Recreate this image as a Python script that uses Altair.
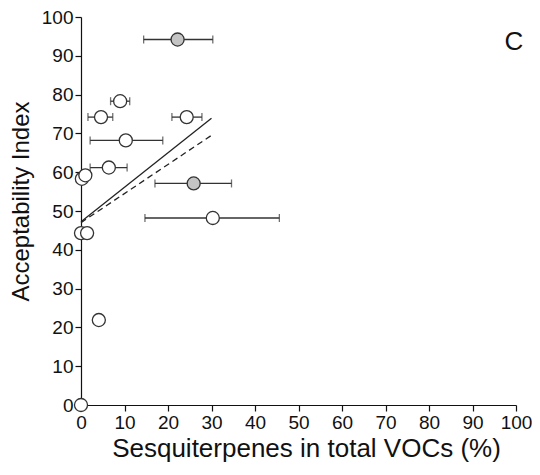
import altair as alt
import pandas as pd

# Data
x_vals = [22.2, 9.0, 4.6, 24.3, 10.3, 6.4, 0.2, 1.0, 25.9, 30.3, 0.0, 1.4, 4.1, 0.0]
y_vals = [94.2, 78.3, 74.2, 74.2, 68.2, 61.2, 58.3, 59.2, 57.1, 48.2, 44.3, 44.3, 21.9, 0.0]
err_lo = [14.4, 6.8, 1.6, 20.9, 2.1, 2.1, None, None, 17.0, 14.7, None, None, None, None]
err_hi = [30.3, 11.2, 7.3, 27.8, 18.8, 10.6, None, None, 34.6, 45.6, None, None, None, None]
group = ["gray", "open", "open", "open", "open", "open", "open", "open", "gray", "open", "open", "open", "open", "open"]

line_x = [0, 30]
solid_y = [47.2, 73.9]
dashed_y = [47.0, 69.5]

pts = pd.DataFrame({"x": x_vals, "y": y_vals, "lo": err_lo, "hi": err_hi, "g": group})
errs = pts.dropna(subset=["lo", "hi"])
lines = pd.DataFrame({
    "x": line_x + line_x,
    "y": solid_y + dashed_y,
    "kind": ["solid", "solid", "dashed", "dashed"],
})

W, H = 435, 388

xscale = alt.Scale(domain=[0, 100], nice=False)
yscale = alt.Scale(domain=[0, 100], nice=False)

xaxis = alt.Axis(values=list(range(0, 101, 10)), title="Sesquiterpenes in total VOCs (%)",
                 grid=False, labelFlush=False, titleFontSize=26, titleX=225, titlePadding=3)
yaxis = alt.Axis(values=list(range(0, 101, 10)), title="Acceptability Index", grid=False,
                 titleFontSize=24, titleY=184, titlePadding=8)

base_x = alt.X("x:Q", scale=xscale, axis=xaxis)
base_y = alt.Y("y:Q", scale=yscale, axis=yaxis)

solid = alt.Chart(lines[lines.kind == "solid"]).mark_line(color="#222", strokeWidth=1.3).encode(
    x=base_x, y=base_y)
dashed = alt.Chart(lines[lines.kind == "dashed"]).mark_line(
    color="#222", strokeWidth=1.3, strokeDash=[6, 4]).encode(x=base_x, y=base_y)

err_rule = alt.Chart(errs).mark_rule(color="#333", strokeWidth=1.3).encode(
    x=alt.X("lo:Q", scale=xscale, axis=xaxis), x2="hi:Q", y=base_y)
cap_lo = alt.Chart(errs).mark_tick(color="#333", thickness=1.3, size=8, orient="vertical").encode(
    x=alt.X("lo:Q", scale=xscale, axis=xaxis), y=base_y)
cap_hi = alt.Chart(errs).mark_tick(color="#333", thickness=1.3, size=8, orient="vertical").encode(
    x=alt.X("hi:Q", scale=xscale, axis=xaxis), y=base_y)

points = alt.Chart(pts).mark_point(filled=True, size=170, stroke="#333", strokeWidth=1.3,
                                   opacity=1, shape="circle").encode(
    x=base_x, y=base_y,
    fill=alt.Fill("g:N", scale=alt.Scale(domain=["gray", "open"], range=["#c4c4c4", "#ffffff"]),
                  legend=None),
)

label = alt.Chart(pd.DataFrame({"t": ["C"]})).mark_text(
    fontSize=26, font="Liberation Sans", color="#111", align="center", baseline="middle").encode(
    x=alt.value(433), y=alt.value(25), text="t:N")

chart = alt.layer(solid, dashed, err_rule, cap_lo, cap_hi, points, label).properties(
    width=W, height=H,
    autosize=alt.AutoSizeParams(type="none"),
    padding={"left": 73, "top": 9, "right": 16, "bottom": 61},
).configure_view(stroke=None).configure_axis(
    domainColor="#111", tickColor="#111", domainWidth=1.2, tickWidth=1.2, tickSize=6,
    labelFont="Liberation Sans", titleFont="Liberation Sans",
    labelFontSize=19, labelColor="#111", titleColor="#111",
    titleFontWeight="normal", labelPadding=2,
)

chart.save("out.html", embed_options={"renderer": "svg", "actions": False})
